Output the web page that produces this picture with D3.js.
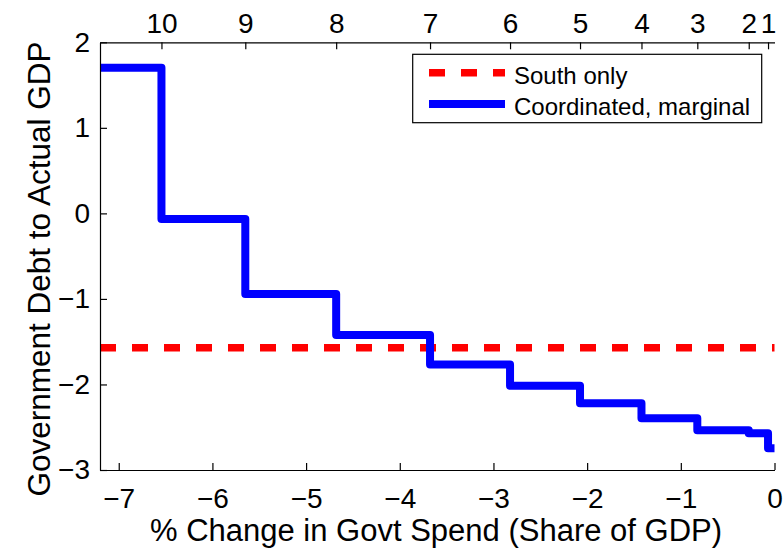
<!DOCTYPE html>
<html>
<head>
<meta charset="utf-8">
<script src="https://cdn.jsdelivr.net/npm/d3@7"></script>
<style>
  html, body { margin: 0; padding: 0; background: #fff; }
  svg { display: block; }
</style>
</head>
<body>
<svg id="chart" width="784" height="548"></svg>
<script>
// step locations (% change in govt spend) and the debt level on each step
const stepX = [-6.544, -5.649, -4.679, -3.677, -2.823, -2.076, -1.42, -0.824, -0.275, -0.069]
const stepLevels = [1.703, -0.066, -0.943, -1.422, -1.767, -2.015, -2.22, -2.396, -2.536, -2.571, -2.746]
const topLabels = ['10', '9', '8', '7', '6', '5', '4', '3', '2', '1']
const southOnly = -1.572
const xTicks = [-7, -6, -5, -4, -3, -2, -1, 0]
const yTicks = [2, 1, 0, -1, -2, -3]
const seriesNames = ['South only', 'Coordinated, marginal']

const width = 784
const height = 548
const margin = { top: 42.3, right: 9.5, bottom: 78, left: 100 }
const font = '"Liberation Sans", Arial, Helvetica, sans-serif'

const svg = d3.select('#chart')

const x = d3.scaleLinear([-7.2, 0], [margin.left, width - margin.right])
const y = d3.scaleLinear([-3, 2], [height - margin.bottom, margin.top])

// build the staircase from the steps
const stairs = [[-7.2, stepLevels[0]]]
stepX.forEach((s, i) => {
  stairs.push([s, stepLevels[i]])
  stairs.push([s, stepLevels[i + 1]])
})
stairs.push([0, stepLevels[stepLevels.length - 1]])

const line = d3.line()
  .x((d) => x(d[0]))
  .y((d) => y(d[1]))

// red dashed reference line
svg.append('line')
  .attr('x1', x(-7.2))
  .attr('x2', x(0))
  .attr('y1', y(southOnly))
  .attr('y2', y(southOnly))
  .attr('stroke', '#ff0000')
  .attr('stroke-width', 7.5)
  .attr('stroke-dasharray', '16,16')

// blue step line
svg.append('path')
  .datum(stairs)
  .attr('d', line)
  .attr('fill', 'none')
  .attr('stroke', '#0000ff')
  .attr('stroke-width', 8)
  .attr('stroke-linejoin', 'round')

const intFormat = d3.format('d')

// bottom axis
const xAxis = svg.append('g')
  .attr('transform', `translate(0,${y(-3)})`)
  .call(d3.axisBottom(x).tickValues(xTicks).tickFormat(intFormat).tickSize(-7).tickSizeOuter(0).tickPadding(0))
xAxis.selectAll('text').attr('dy', null).attr('y', 38)

// left axis
const yAxis = svg.append('g')
  .attr('transform', `translate(${x(-7.2)},0)`)
  .call(d3.axisLeft(y).tickValues(yTicks).tickFormat(intFormat).tickSize(-7).tickSizeOuter(0).tickPadding(10))

// top axis, labelled with step numbers
const topAxis = svg.append('g')
  .attr('transform', `translate(0,${y(2)})`)
  .call(d3.axisTop(x).tickValues(stepX).tickFormat((d, i) => topLabels[i]).tickSize(-7).tickSizeOuter(0).tickPadding(9))

;[xAxis, yAxis, topAxis].forEach((g) => {
  g.select('.domain').attr('stroke', '#000').attr('stroke-width', 1.2)
  g.selectAll('.tick line').attr('stroke', '#000').attr('stroke-width', 1.2)
  g.selectAll('text')
    .attr('fill', '#000')
    .style('font-family', font)
    .style('font-size', '28px')
})

// axis titles
svg.append('text')
  .attr('x', 436)
  .attr('y', 541)
  .attr('text-anchor', 'middle')
  .style('font-family', font)
  .style('font-size', '31px')
  .text('% Change in Govt Spend (Share of GDP)')

svg.append('text')
  .attr('transform', 'translate(50,269) rotate(-90)')
  .attr('text-anchor', 'middle')
  .style('font-family', font)
  .style('font-size', '31.5px')
  .text('Government Debt to Actual GDP')

// legend
const legend = svg.append('g').attr('id', 'legend')
legend.append('rect')
  .attr('x', 412.7)
  .attr('y', 54.3)
  .attr('width', 349)
  .attr('height', 68.4)
  .attr('fill', '#fff')
  .attr('stroke', '#000')
  .attr('stroke-width', 1.2)

const legendRows = [
  { name: seriesNames[0], color: '#ff0000', dash: '16,16', w: 7.5, y: 72.7 },
  { name: seriesNames[1], color: '#0000ff', dash: null, w: 8, y: 104 },
]
const rows = legend.selectAll('g.row')
  .data(legendRows)
  .join('g')
  .attr('class', 'row')
rows.append('line')
  .attr('x1', 429)
  .attr('x2', 505)
  .attr('y1', (d) => d.y)
  .attr('y2', (d) => d.y)
  .attr('stroke', (d) => d.color)
  .attr('stroke-width', (d) => d.w)
  .attr('stroke-dasharray', (d) => d.dash)
rows.append('text')
  .attr('x', 514)
  .attr('y', (d) => d.y + 11)
  .style('font-family', font)
  .style('font-size', '24px')
  .text((d) => d.name)
</script>
</body>
</html>
